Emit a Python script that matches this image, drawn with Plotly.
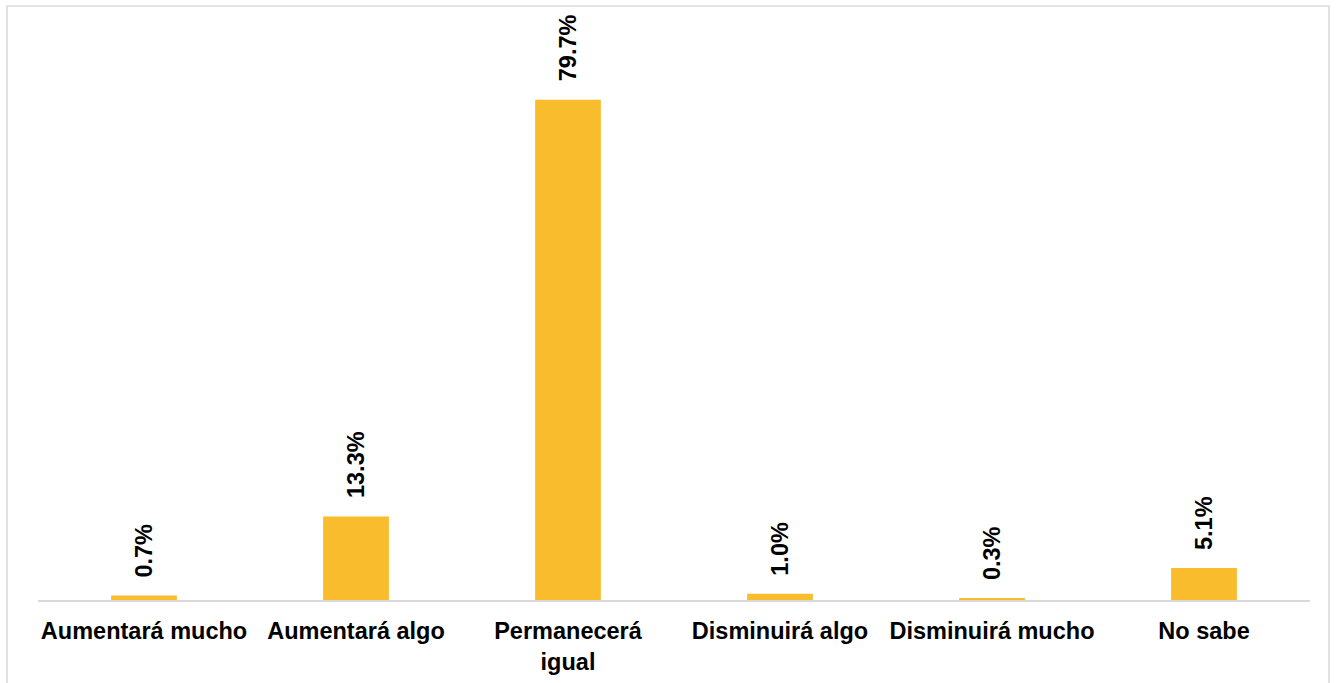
import plotly.graph_objects as go

categories = ["Aumentará mucho", "Aumentará algo", "Permanecerá<br>igual",
              "Disminuirá algo", "Disminuirá mucho", "No sabe"]
values = [0.7, 13.3, 79.7, 1.0, 0.3, 5.1]
labels = [f"{v:.1f}%" for v in values]

W, H = 1338, 683
ml, mr, mt, mb = 38, 28, 20, 83
pw, ph = W - ml - mr, H - mt - mb

fig = go.Figure(go.Bar(
    x=categories, y=values,
    marker=dict(color="#F9BC2C", line=dict(width=0)),
    hoverinfo="skip",
))

for c, v, t in zip(categories, values, labels):
    fig.add_annotation(x=c, y=v, text=t, showarrow=False, textangle=-90,
                       xanchor="center", yanchor="bottom", yshift=16,
                       font=dict(family="Liberation Sans, Arial", size=23.5,
                                 color="black", weight="bold"))

fig.update_layout(
    width=W, height=H, margin=dict(l=ml, r=mr, t=mt, b=mb),
    paper_bgcolor="white", plot_bgcolor="white", showlegend=False,
    bargap=0.69,
    font=dict(family="Liberation Sans, Arial", color="black"),
    xaxis=dict(showline=True, linecolor="#D9D9D9", linewidth=2, showgrid=False,
               ticks="", ticklabelstandoff=9, automargin=False,
               tickfont=dict(size=23.5, color="black", weight="bold")),
    yaxis=dict(range=[0, 92.4], visible=False, showgrid=False, zeroline=False,
               automargin=False),
    shapes=[dict(type="rect", xref="paper", yref="paper",
                 x0=(7 - ml) / pw, x1=(1329 - ml) / pw,
                 y0=(H - mb - 720) / ph, y1=(H - mb - 6) / ph,
                 line=dict(color="#D9D9D9", width=1.5), fillcolor="rgba(0,0,0,0)",
                 layer="below")],
)

fig.write_html("out.html")
